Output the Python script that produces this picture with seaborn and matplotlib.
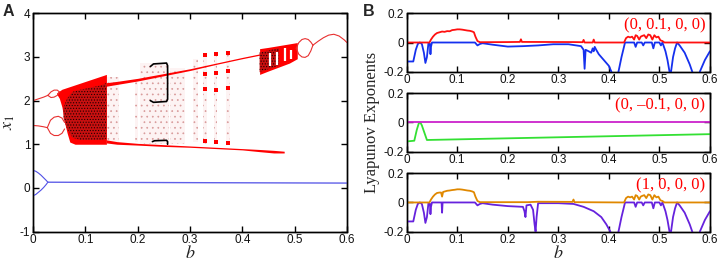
import numpy as np
import pandas as pd
import matplotlib
matplotlib.use("Agg")
import matplotlib.pyplot as plt
import seaborn as sns

# ---------------- Panel A: bifurcation diagram ----------------
# blue attractor
blue_start_b = [0.0, 0.005, 0.01, 0.015, 0.02, 0.025, 0.028]
blue_start_hi = [0.40, 0.38, 0.34, 0.29, 0.23, 0.17, 0.13]
blue_start_lo = [-0.18, -0.15, -0.10, -0.05, 0.01, 0.08, 0.13]
blue_flat_b = [0.028, 0.3, 0.6]
blue_flat_x = [0.13, 0.12, 0.11]

# red periodic branches before the first chaotic band
red_up_b = [0.0, 0.01, 0.02, 0.028]
red_up_x = [2.0, 2.04, 2.08, 2.12]
red_up_bub_b = [0.028, 0.034, 0.04, 0.046, 0.05]
red_up_bub_hi = [2.12, 2.2, 2.24, 2.24, 2.2]
red_up_bub_lo = [2.12, 2.07, 2.08, 2.12, 2.2]
red_lo_b = [0.0, 0.01, 0.02, 0.027]
red_lo_x = [1.43, 1.42, 1.40, 1.38]
red_lo_bub_b = [0.027, 0.033, 0.04, 0.048, 0.055, 0.06]
red_lo_bub_hi = [1.38, 1.55, 1.62, 1.64, 1.6, 1.5]
red_lo_bub_lo = [1.38, 1.25, 1.2, 1.2, 1.25, 1.35]

# first chaotic band
chaos1_b = [0.045, 0.05, 0.055, 0.06, 0.065, 0.07, 0.08, 0.09, 0.1, 0.11, 0.12, 0.13, 0.14]
chaos1_hi = [2.18, 2.22, 2.26, 2.28, 2.3, 2.32, 2.36, 2.4, 2.44, 2.48, 2.52, 2.56, 2.6]
chaos1_lo = [2.15, 2.05, 1.85, 1.5, 1.25, 1.05, 1.0, 1.0, 1.0, 1.0, 1.0, 1.0, 1.0]
chaos1_dark_b = [0.058, 0.065, 0.075, 0.09, 0.11, 0.13, 0.14]
chaos1_dark_hi = [1.85, 2.05, 2.2, 2.25, 2.3, 2.35, 2.4]
chaos1_dark_lo = [1.6, 1.35, 1.15, 1.1, 1.1, 1.1, 1.12]

# narrow upper and lower bands after b = 0.14
upper_b = [0.14, 0.16, 0.2, 0.25, 0.3, 0.35, 0.4, 0.433]
upper_hi = [2.41, 2.44, 2.51, 2.62, 2.73, 2.86, 2.99, 3.07]
upper_lo = [2.33, 2.37, 2.45, 2.57, 2.69, 2.83, 2.96, 3.04]
lower_b = [0.14, 0.16, 0.2, 0.25, 0.3, 0.35, 0.4, 0.433, 0.46, 0.48]
lower_hi = [1.1, 1.06, 1.02, 0.99, 0.96, 0.93, 0.9, 0.88, 0.86, 0.84]
lower_lo = [1.03, 1.0, 0.98, 0.95, 0.93, 0.9, 0.87, 0.83, 0.8, 0.8]

# second chaotic band
chaos2_b = [0.433, 0.45, 0.47, 0.49, 0.505]
chaos2_hi = [3.19, 3.22, 3.26, 3.3, 3.33]
chaos2_lo = [2.6, 2.68, 2.77, 2.86, 2.96]
chaos2_dark_b = [0.433, 0.45, 0.47]
chaos2_dark_hi = [3.1, 3.15, 3.2]
chaos2_dark_lo = [2.65, 2.72, 2.8]
window_b = [0.452, 0.466, 0.481, 0.494]
window_lo = [2.8, 2.82, 2.9, 2.95]
window_hi = [3.1, 3.12, 3.2, 3.15]

# period-2 bubble and final curve
bubble_b = [0.503, 0.508, 0.514, 0.52, 0.526, 0.531, 0.535]
bubble_hi = [3.2, 3.33, 3.4, 3.42, 3.4, 3.34, 3.27]
bubble_lo = [3.2, 3.06, 3.0, 2.99, 3.03, 3.14, 3.27]
tail_b = [0.535, 0.545, 0.555, 0.565, 0.575, 0.585, 0.595, 0.6]
tail_x = [3.27, 3.36, 3.44, 3.5, 3.52, 3.48, 3.39, 3.33]

# sparse scattered regions (b from, b to, x low, x high)
sparse_b0 = [0.14, 0.195, 0.205, 0.262, 0.305, 0.325, 0.345, 0.368]
sparse_b1 = [0.165, 0.2, 0.26, 0.29, 0.315, 0.332, 0.352, 0.376]
sparse_lo = [1.05, 1.05, 1.0, 1.0, 1.05, 1.0, 1.0, 1.0]
sparse_hi = [2.55, 2.45, 2.85, 2.75, 2.95, 3.1, 3.1, 3.1]

# red clusters in the periodic windows
cluster_b = [0.328, 0.328, 0.328, 0.328, 0.35, 0.35, 0.35, 0.35, 0.372, 0.372, 0.372, 0.372]
cluster_x = [3.05, 2.62, 2.27, 1.07, 3.06, 2.64, 2.25, 1.05, 3.08, 2.68, 2.3, 1.03]

# black period-window brackets
bracket_b = [0.224, 0.23, 0.255, 0.257, 0.257, 0.255, 0.23, 0.224]
bracket_x = [2.78, 2.84, 2.86, 2.8, 2.03, 1.98, 1.96, 2.0]
bracket2_b = [0.228, 0.232, 0.255, 0.257, 0.257]
bracket2_x = [1.06, 1.08, 1.09, 1.06, 1.0]

# ---------------- Panel B: Lyapunov exponents ----------------
le1_top_b = [0, 0.045, 0.048, 0.052, 0.056, 0.06, 0.065, 0.07, 0.075, 0.08, 0.085, 0.09, 0.095,
             0.1, 0.105, 0.11, 0.115, 0.12, 0.125, 0.13, 0.133, 0.136, 0.14, 0.145, 0.2, 0.224,
             0.226, 0.228, 0.33, 0.348, 0.35, 0.352, 0.368, 0.37, 0.372, 0.43, 0.434, 0.438,
             0.442, 0.446, 0.45, 0.453, 0.456, 0.46, 0.463, 0.466, 0.47, 0.474, 0.478, 0.482,
             0.486, 0.49, 0.494, 0.498, 0.502, 0.506, 0.51, 0.6]
le1_top = [0, 0, 0.02, 0.04, 0.055, 0.065, 0.07, 0.075, 0.073, 0.078, 0.077, 0.085, 0.087,
           0.09, 0.09, 0.088, 0.085, 0.082, 0.08, 0.075, 0.07, 0.04, 0.01, 0.002, 0.003, 0.004,
           0.022, 0.004, 0.003, 0.002, 0.018, 0.0, 0.0, 0.02, 0.0, 0.0, 0.03, 0.04,
           0.035, 0.04, 0.02, 0.05, 0.045, 0.02, 0.04, 0.045, 0.05, 0.03, 0.055, 0.05,
           0.02, 0.05, 0.035, 0.04, 0.015, 0.01, 0.0, 0.0]

le2_top_b = [0, 0.013, 0.018, 0.022, 0.026, 0.03, 0.034, 0.037, 0.04, 0.043, 0.046, 0.047,
             0.048, 0.05, 0.135, 0.14, 0.145, 0.15, 0.17, 0.2, 0.23, 0.26, 0.29, 0.32, 0.345,
             0.35, 0.352, 0.354, 0.36, 0.365, 0.368, 0.37, 0.372, 0.375, 0.38, 0.39, 0.4,
             0.405, 0.41, 0.415, 0.419, 0.425, 0.432, 0.45, 0.453, 0.456, 0.465, 0.468, 0.471,
             0.485, 0.488, 0.491, 0.5, 0.503, 0.506, 0.508, 0.512, 0.516, 0.52, 0.522, 0.523,
             0.527, 0.531, 0.535, 0.54, 0.55, 0.56, 0.565, 0.57, 0.578, 0.58, 0.59, 0.6]
le2_top = [-0.13, -0.13, -0.05, -0.01, 0.0, -0.01, -0.07, -0.14, -0.1, -0.005, -0.01, -0.08,
           -0.03, 0.0, 0.0, -0.02, -0.01, -0.005, -0.015, -0.028, -0.025, -0.02, -0.012, -0.012,
           -0.025, -0.05, -0.18, -0.05, -0.06, -0.07, -0.04, -0.06, -0.03, -0.05, -0.08, -0.12,
           -0.16, -0.2, -0.3, -0.3, -0.2, -0.1, 0.0, 0.0, -0.03, 0.0, 0.0, -0.02, 0.0,
           0.0, -0.04, 0.0, 0.0, -0.02, 0.0, -0.02, -0.06, -0.12, -0.2, -0.3, -0.2,
           -0.1, -0.04, 0.0, -0.02, -0.07, -0.15, -0.2, -0.3, -0.3, -0.2, -0.12, -0.06]

le1_mid_b = [0, 0.6]
le1_mid = [0, 0]
le2_mid_b = [0, 0.015, 0.02, 0.024, 0.027, 0.03, 0.035, 0.04, 0.6]
le2_mid = [-0.13, -0.125, -0.05, -0.005, 0.0, -0.02, -0.07, -0.12, -0.08]

le1_bot_b = [0, 0.045, 0.048, 0.052, 0.056, 0.06, 0.065, 0.068, 0.07, 0.072, 0.075, 0.08,
             0.085, 0.09, 0.095, 0.1, 0.105, 0.11, 0.115, 0.12, 0.125, 0.13, 0.133, 0.136,
             0.14, 0.145, 0.24, 0.26, 0.328, 0.33, 0.332, 0.43, 0.434, 0.438, 0.442, 0.446,
             0.45, 0.453, 0.456, 0.46, 0.463, 0.466, 0.47, 0.474, 0.478, 0.482, 0.486, 0.49,
             0.494, 0.498, 0.502, 0.506, 0.51, 0.6]
le1_bot = [0, 0, 0.02, 0.04, 0.055, 0.065, 0.068, 0.068, 0.04, 0.072, 0.075, 0.08,
           0.082, 0.085, 0.087, 0.09, 0.09, 0.088, 0.085, 0.082, 0.08, 0.075, 0.07, 0.04,
           0.01, 0.002, 0.002, 0.005, 0.004, 0.02, 0.002, 0.0, 0.03, 0.04, 0.035, 0.04,
           0.02, 0.05, 0.045, 0.02, 0.04, 0.045, 0.05, 0.03, 0.055, 0.05, 0.02, 0.05,
           0.035, 0.04, 0.015, 0.01, 0.0, 0.0]

le2_bot_b = [0, 0.013, 0.018, 0.022, 0.026, 0.03, 0.034, 0.037, 0.04, 0.043, 0.046, 0.047,
             0.048, 0.05, 0.069, 0.07, 0.071, 0.135, 0.14, 0.145, 0.15, 0.17, 0.2, 0.23, 0.233,
             0.235, 0.237, 0.245, 0.25, 0.253, 0.255, 0.257, 0.26, 0.3, 0.33, 0.35, 0.37, 0.385,
             0.395, 0.403, 0.408, 0.415, 0.419, 0.425, 0.432, 0.45, 0.453, 0.456, 0.465, 0.468,
             0.471, 0.485, 0.488, 0.491, 0.5, 0.503, 0.506, 0.508, 0.512, 0.516, 0.52, 0.522,
             0.523, 0.527, 0.531, 0.535, 0.54, 0.55, 0.56, 0.565, 0.57, 0.578, 0.58, 0.59, 0.6]
le2_bot = [-0.13, -0.13, -0.05, -0.01, 0.0, -0.01, -0.07, -0.14, -0.1, -0.005, -0.01, -0.08,
           -0.03, 0.0, 0.0, -0.07, 0.0, 0.0, -0.02, -0.01, -0.005, -0.015, -0.025, -0.03, -0.06,
           -0.1, -0.02, -0.015, -0.05, -0.15, -0.2, -0.1, -0.005, -0.005, -0.01, -0.03, -0.06, -0.1,
           -0.15, -0.2, -0.3, -0.3, -0.2, -0.1, 0.0, 0.0, -0.03, 0.0, 0.0, -0.02,
           0.0, 0.0, -0.04, 0.0, 0.0, -0.02, 0.0, -0.02, -0.06, -0.12, -0.2, -0.3,
           -0.2, -0.1, -0.04, 0.0, -0.02, -0.07, -0.15, -0.2, -0.3, -0.3, -0.2, -0.12, -0.06]

labels_b = ["(0, 0.1, 0, 0)", "(0, \u20130.1, 0, 0)", "(1, 0, 0, 0)"]

b_ticks = [0, 0.1, 0.2, 0.3, 0.4, 0.5, 0.6]
b_ticklabels = ["0", "0.1", "0.2", "0.3", "0.4", "0.5", "0.6"]
x1_ticks = [-1, 0, 1, 2, 3, 4]
le_ticks = [-0.2, 0, 0.2]
le_ticklabels = ["-0.2", "0", "0.2"]

RED = "#ff0000"
SERIF = "Liberation Serif"


def style_axes(ax):
    ax.tick_params(direction="in", length=4, width=1.0, top=True, right=True,
                   bottom=True, left=True, labelsize=8.5, pad=2,
                   color="black", labelcolor="#111111")
    for s in ax.spines.values():
        s.set_visible(True)
        s.set_linewidth(1.0)
        s.set_edgecolor("black")
    # box drawn as a plain line too, so the frame always shows
    ax.plot([0, 1, 1, 0, 0], [0, 0, 1, 1, 0], transform=ax.transAxes, color="black",
            lw=1.0, clip_on=False, zorder=12, solid_joinstyle="miter")


def line(ax, b, v, color, lw=1.0, zorder=3):
    df = pd.DataFrame({"b": b, "v": v})
    sns.lineplot(data=df, x="b", y="v", ax=ax, color=color, lw=lw, sort=False,
                 estimator=None, zorder=zorder)


def plot_bifurcation(ax):
    # blue branch
    line(ax, blue_start_b, blue_start_hi, "#5050e6", 0.8)
    line(ax, blue_start_b, blue_start_lo, "#5050e6", 0.8)
    line(ax, blue_flat_b, blue_flat_x, "#6060e8", 1.0)

    # red periodic lines
    for b, v in [(red_up_b, red_up_x), (red_up_bub_b, red_up_bub_hi), (red_up_bub_b, red_up_bub_lo),
                 (red_lo_b, red_lo_x), (red_lo_bub_b, red_lo_bub_hi), (red_lo_bub_b, red_lo_bub_lo),
                 (bubble_b, bubble_hi), (bubble_b, bubble_lo), (tail_b, tail_x)]:
        line(ax, b, v, "#e83030", 0.8)

    # sparse scatter regions: faint dotted fill
    for b0, b1, lo, hi in zip(sparse_b0, sparse_b1, sparse_lo, sparse_hi):
        ax.fill_between([b0, b1], [lo, lo], [hi, hi], facecolor="#fdf3f3",
                        edgecolor="#d89a9a", hatch="...", linewidth=0, zorder=1)

    # chaotic bands (red with black-speckled core)
    ax.fill_between(chaos1_b, chaos1_lo, chaos1_hi, color=RED, linewidth=0, zorder=2)
    ax.fill_between(chaos1_dark_b, chaos1_dark_lo, chaos1_dark_hi, facecolor="#c81010",
                    edgecolor="#200000", hatch="......", linewidth=0, zorder=2)
    ax.fill_between(upper_b, upper_lo, upper_hi, color=RED, linewidth=0, zorder=2)
    ax.fill_between(lower_b, lower_lo, lower_hi, color=RED, linewidth=0, zorder=2)
    ax.fill_between(chaos2_b, chaos2_lo, chaos2_hi, color=RED, linewidth=0, zorder=2)
    ax.fill_between(chaos2_dark_b, chaos2_dark_lo, chaos2_dark_hi, facecolor="#c81010",
                    edgecolor="#200000", hatch="......", linewidth=0, zorder=2)
    ax.vlines(window_b, window_lo, window_hi, color="white", lw=1.6, zorder=3)

    ax.scatter(cluster_b, cluster_x, s=6, marker="s", color=RED, linewidths=0, zorder=3)
    line(ax, bracket_b, bracket_x, "black", 1.2, 4)
    line(ax, bracket2_b, bracket2_x, "black", 1.2, 4)

    ax.set_xlim(0, 0.6)
    ax.set_ylim(-1, 4)
    ax.set_xticks(b_ticks)
    ax.set_xticklabels(b_ticklabels)
    ax.set_yticks(x1_ticks)
    ax.set_yticklabels([str(t) for t in x1_ticks])
    ax.set_xlabel("$b$", fontsize=13, labelpad=-1)
    ax.set_ylabel("$x_1$", fontsize=13, labelpad=2)
    style_axes(ax)


def plot_lyapunov(axes):
    series = [
        (le2_top_b, le2_top, "#1530ee", le1_top_b, le1_top, "#ff1010"),
        (le2_mid_b, le2_mid, "#33e033", le1_mid_b, le1_mid, "#cc22cc"),
        (le2_bot_b, le2_bot, "#6622dd", le1_bot_b, le1_bot, "#e08800"),
    ]
    for ax, (b2, v2, c2, b1, v1, c1), txt in zip(axes, series, labels_b):
        line(ax, b2, v2, c2, 1.3)
        line(ax, b1, v1, c1, 1.3, 4)
        ax.set_xlim(0, 0.6)
        ax.set_ylim(-0.2, 0.2)
        ax.set_xticks(b_ticks)
        ax.set_xticklabels(b_ticklabels)
        ax.set_yticks(le_ticks)
        ax.set_yticklabels(le_ticklabels)
        ax.set_xlabel("")
        ax.set_ylabel("")
        ax.text(0.985, 0.12, txt, transform=ax.get_yaxis_transform(), ha="right", va="center",
                color=RED, fontsize=12, fontfamily=SERIF)
        style_axes(ax)
    axes[-1].set_xlabel("$b$", fontsize=13, labelpad=-1)


def run():
    sns.set_style("ticks")
    plt.rcParams["font.family"] = ["Liberation Sans", "DejaVu Sans"]
    plt.rcParams["mathtext.fontset"] = "stix"
    plt.rcParams["axes.unicode_minus"] = False
    plt.rcParams["axes.edgecolor"] = "black"
    plt.rcParams["axes.linewidth"] = 1.0
    plt.rcParams["hatch.linewidth"] = 0.5

    fig = plt.figure(figsize=(7.22, 2.64), dpi=100)
    ax_a = fig.add_axes([0.046, 0.123, 0.4345, 0.8266])
    ax_b = [fig.add_axes([0.5633, 0.7284, 0.42, 0.2212]),
            fig.add_axes([0.5633, 0.4255, 0.42, 0.2212]),
            fig.add_axes([0.5633, 0.1225, 0.42, 0.2212])]

    plot_bifurcation(ax_a)
    plot_lyapunov(ax_b)

    fig.text(0.004, 0.985, "A", fontsize=11.5, fontweight="bold", va="top")
    fig.text(0.503, 0.985, "B", fontsize=11.5, fontweight="bold", va="top")
    fig.text(0.515, 0.535, "Lyapunov Exponents", rotation=90, fontsize=12,
             fontfamily=SERIF, ha="center", va="center")

    fig.savefig("out.png", dpi=100)


if __name__ == "__main__":
    run()
